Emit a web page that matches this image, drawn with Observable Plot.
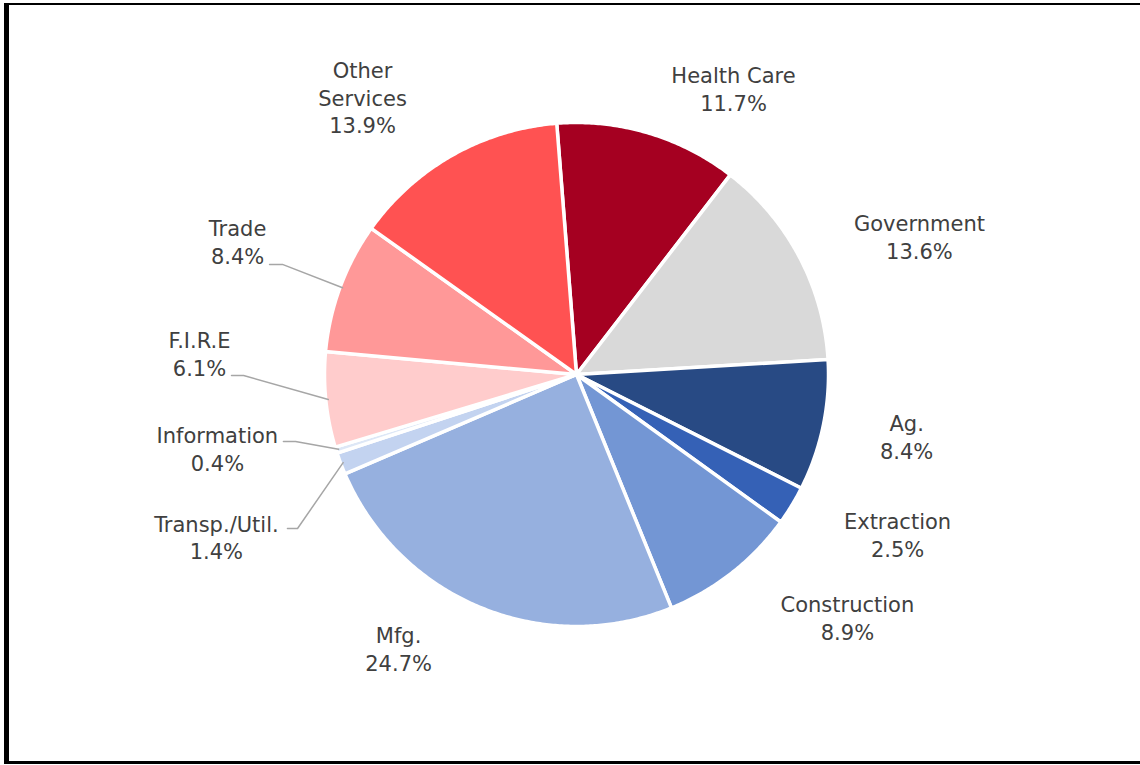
<!DOCTYPE html>
<html>
<head>
<meta charset="utf-8">
<script src="https://cdn.jsdelivr.net/npm/d3@7"></script>
<script src="https://cdn.jsdelivr.net/npm/@observablehq/plot@0.6"></script>
<style>
  html, body { margin: 0; padding: 0; background: #fff; }
  #wrap { position: relative; width: 1140px; height: 765px; overflow: hidden; }
  #frame { position: absolute; left: 4px; top: 3px; width: 1200px; height: 756px;
           border-left: 5px solid #000; border-top: 2px solid #000; border-bottom: 3px solid #000;
           pointer-events: none; }
</style>
</head>
<body>
<div id="wrap"><div id="frame"></div></div>
<script>
// ---- data ----
const sectors = ["Health Care", "Government", "Ag.", "Extraction", "Construction", "Mfg.",
                 "Transp./Util.", "Information", "F.I.R.E", "Trade", "Other Services"];
const shares  = [11.7, 13.6, 8.4, 2.5, 8.9, 24.7, 1.4, 0.4, 6.1, 8.4, 13.9];
const colors  = ["#A50021", "#D9D9D9", "#284A84", "#3561B6", "#7396D4", "#96B0DF",
                 "#C3D3F0", "#DDE7F6", "#FFCCCC", "#FF9898", "#FF5252"];
const labelNames = ["Health Care", "Government", "Ag.", "Extraction", "Construction", "Mfg.",
                    "Transp./Util.", "Information", "F.I.R.E", "Trade", "Other\nServices"];

// ---- layout (label placement in units of the pie radius) ----
const labelLayout = [
  [0.623, 1.135], [1.361, 0.548], [1.310, -0.246], [1.274, -0.635], [1.075, -0.964],
  [-0.706, -1.087], [-1.429, -0.643], [-1.425, -0.290], [-1.496, 0.087], [-1.345, 0.528],
  [-0.849, 1.103]
];
// leader elbows (label side) for small slices
const leaderLayout = {
  "Trade":         [[-1.218, 0.437], [-1.167, 0.437]],
  "F.I.R.E":       [[-1.369, -0.004], [-1.321, -0.004]],
  "Information":   [[-1.163, -0.266], [-1.115, -0.266]],
  "Transp./Util.": [[-1.147, -0.611], [-1.107, -0.611]]
};

const startAngle = -4.5 * Math.PI / 180;
const pie = d3.pie().sort(null).value(d => d.share)
  .startAngle(startAngle).endAngle(startAngle + 2 * Math.PI);
const rows = sectors.map((s, i) => ({name: s, share: shares[i], label: labelNames[i]}));
const arcs = pie(rows);

// polygon points for each slice
const pts = [];
for (const a of arcs) {
  const n = Math.max(2, Math.ceil((a.endAngle - a.startAngle) / (0.5 * Math.PI / 180)));
  pts.push({name: a.data.name, x: 0, y: 0});
  for (let k = 0; k <= n; k++) {
    const t = a.startAngle + (a.endAngle - a.startAngle) * k / n;
    pts.push({name: a.data.name, x: Math.sin(t), y: Math.cos(t)});
  }
}

const labels = arcs.map((a, i) => ({
  x: labelLayout[i][0], y: labelLayout[i][1],
  text: a.data.label + "\n" + a.data.share.toFixed(1) + "%"
}));

const leaders = [];
for (const a of arcs) {
  const L = leaderLayout[a.data.name];
  if (!L) continue;
  const m = (a.startAngle + a.endAngle) / 2;
  leaders.push({name: a.data.name, x: L[0][0], y: L[0][1]});
  leaders.push({name: a.data.name, x: L[1][0], y: L[1][1]});
  leaders.push({name: a.data.name, x: Math.sin(m) * 0.99, y: Math.cos(m) * 0.99});
}

const chart = Plot.plot({
  width: 1140,
  height: 765,
  margin: 0,
  x: {domain: [-1, 1], range: [324, 828], axis: null},
  y: {domain: [-1, 1], range: [626, 122], axis: null},
  color: {domain: sectors, range: colors},
  style: {fontFamily: "'DejaVu Sans', Verdana, sans-serif", background: "transparent"},
  marks: [
    Plot.line(pts, {x: "x", y: "y", z: "name", fill: "name", stroke: "white",
                    strokeWidth: 3.5, strokeLinejoin: "round", curve: "linear-closed"}),
    Plot.line(leaders, {x: "x", y: "y", z: "name", stroke: "#A6A6A6", strokeWidth: 1.5}),
    Plot.text(labels, {x: "x", y: "y", text: "text", fontSize: 21, lineHeight: 1.333,
                       fill: "#404040", textAnchor: "middle", lineAnchor: "middle"})
  ]
});
document.getElementById("wrap").prepend(chart);
</script>
</body>
</html>
